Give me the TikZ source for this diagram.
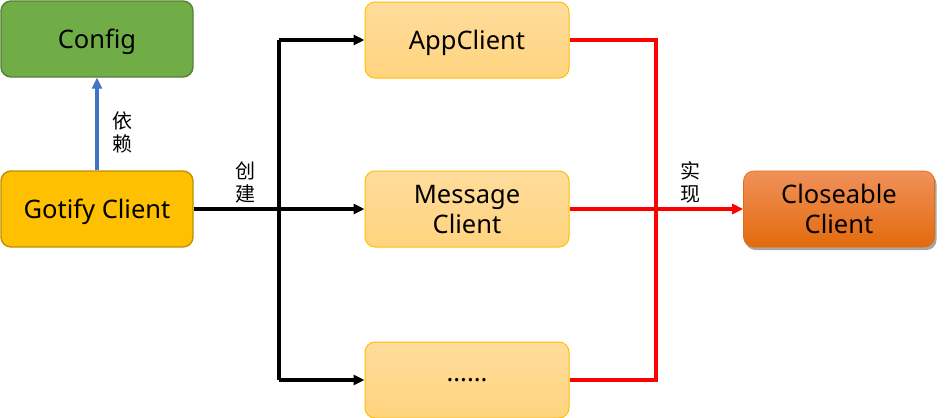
\documentclass[tikz,border=0pt]{standalone}
\usepackage{fontspec}
\setmainfont{Noto Sans}
\newfontfamily\cjk{Noto Sans CJK SC}
\usetikzlibrary{arrows.meta,shadows}
\definecolor{cfgfill}{HTML}{70AD47}
\definecolor{cfgdraw}{HTML}{548235}
\definecolor{gotfill}{HTML}{FFC000}
\definecolor{gotdraw}{HTML}{BF9000}
\definecolor{ltop}{HTML}{FFDC9C}
\definecolor{lbot}{HTML}{FFD47E}
\definecolor{ldraw}{HTML}{FFC000}
\definecolor{otop}{HTML}{F0915A}
\definecolor{obot}{HTML}{E36A0C}
\definecolor{odraw}{HTML}{E46C0A}
\definecolor{bluel}{HTML}{4472C4}
\definecolor{redl}{HTML}{FF0000}
\tikzset{
  box/.style={rounded corners=10pt, line width=1.4pt, minimum width=#1, minimum height=76pt, inner sep=0pt, align=center, font=\fontsize{25.5}{30}\selectfont, text depth=0pt},
  box/.default=192pt,
  lbox/.style={box=204pt, draw=ldraw, top color=ltop, bottom color=lbot, line width=1pt},
  lbl/.style={font=\cjk\fontsize{20}{23}\selectfont, align=center, inner sep=0pt},
  conn/.style={line width=3.2pt},
  tip/.style={-{Triangle[length=11pt,width=10pt]}},
}
\begin{document}
\begin{tikzpicture}[x=1pt,y=-1pt]
\useasboundingbox (0,0) rectangle (946,418);
\fill[white] (0,0) rectangle (946,418);
\node[box, draw=cfgdraw, fill=cfgfill] (config) at (97,39) {Config};
\node[box, draw=gotdraw, fill=gotfill] (gotify) at (97,209) {Gotify Client};
\node[lbox] (app) at (467,40) {AppClient};
\node[lbox] (msg) at (467,209) {Message\\Client};
\node[lbox] (dots) at (467,380) {......};
\node[box=191pt, draw=odraw, top color=otop, bottom color=obot, line width=0.6pt, drop shadow={shadow xshift=2pt, shadow yshift=-3pt, opacity=0.35, fill=black}] (close) at (839,209) {Closeable\\Client};
\coordinate (bj) at (279,209);
\coordinate (rj) at (656,209);
% dependency
\draw[conn, bluel, tip] (gotify.north) -- (config.south);
\node[lbl] (ylbl) at (122,132) {依\\赖};
% creation
\draw[conn, tip] (gotify.east) -- (msg.west);
\draw[conn] (bj |- app.west) -- (bj |- dots.west);
\draw[conn, tip] (bj |- app.west) -- (app.west);
\draw[conn, tip] (bj |- dots.west) -- (dots.west);
\node[lbl] (clbl) at (245,182) {创\\建};
% implementation
\draw[conn, redl] (app.east) -| (rj) |- (dots.east);
\draw[conn, redl, tip] (msg.east) -- (close.west);
\node[lbl] (slbl) at (690,182) {实\\现};
\end{tikzpicture}
\end{document}
